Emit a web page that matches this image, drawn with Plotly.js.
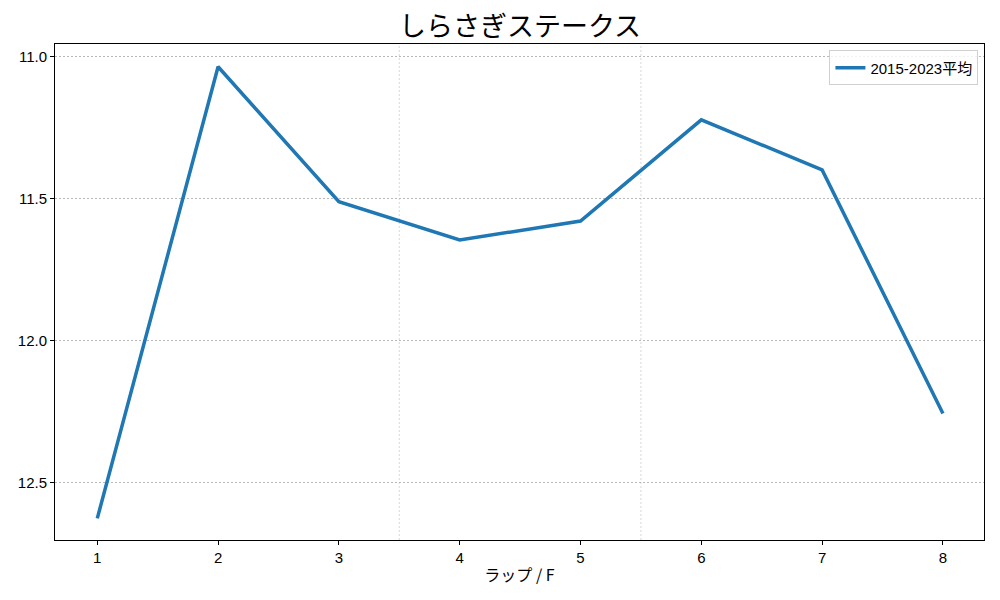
<!DOCTYPE html>
<html>
<head>
<meta charset="utf-8">
<script src="https://cdn.plot.ly/plotly-3.0.1.min.js"></script>
<style>html,body{margin:0;padding:0;background:#fff}#chart{width:1000px;height:600px}</style>
</head>
<body>
<div id="chart"></div>
<script>
const laps = [1, 2, 3, 4, 5, 6, 7, 8];
const avgTimes = [12.625, 11.035, 11.51, 11.645, 11.578, 11.222, 11.398, 12.256];
const seriesName = '2015-2023平均';
const dividers = [3.5, 5.5];
const yTicks = [11.0, 11.5, 12.0, 12.5];
const yTickText = ['11.0', '11.5', '12.0', '12.5'];

const font = '"Liberation Sans", "Noto Sans CJK JP", sans-serif';
const cjkFont = '"Noto Sans CJK JP", "Liberation Sans", sans-serif';

const shapes = dividers.map(d => ({
  type: 'line', xref: 'x', yref: 'paper', x0: d, x1: d, y0: 0, y1: 1,
  line: {color: '#cfcfcf', width: 0.8, dash: '2px,2px'}, layer: 'below'
}));

Plotly.newPlot('chart', [{
  x: laps, y: avgTimes, type: 'scatter', mode: 'lines', name: seriesName,
  line: {color: '#1f77b4', width: 3.5}
}], {
  width: 1000, height: 600,
  margin: {l: 55, r: 16, t: 44, b: 60},
  paper_bgcolor: '#fff', plot_bgcolor: '#fff',
  font: {family: font, size: 15, color: '#000'},
  title: {text: 'しらさぎステークス', font: {family: cjkFont, size: 27, color: '#000'}, x: 0.52, xanchor: 'center', y: 0.955, yanchor: 'middle'},
  showlegend: true,
  legend: {x: 0.994, xanchor: 'right', y: 0.987, yanchor: 'top', bgcolor: 'rgba(255,255,255,0.8)', bordercolor: '#d0d0d0', borderwidth: 1, font: {family: font, size: 15}, itemwidth: 30},
  xaxis: {
    range: [0.65, 8.34], tickvals: laps, ticktext: laps.map(String),
    showgrid: false, zeroline: false, showline: true, mirror: true, linecolor: '#000', linewidth: 1,
    ticks: 'outside', ticklen: 4, tickcolor: '#000',
    title: {text: 'ラップ / F', font: {family: cjkFont, size: 16}, standoff: 4}
  },
  yaxis: {
    range: [12.701, 10.955], tickvals: yTicks, ticktext: yTickText,
    showgrid: true, gridcolor: '#b8b8b8', griddash: '2px,2px', gridwidth: 0.7, zeroline: false,
    showline: true, mirror: true, linecolor: '#000', linewidth: 1,
    ticks: 'outside', ticklen: 4, tickcolor: '#000'
  },
  shapes: shapes
}, {displayModeBar: false});
</script>
</body>
</html>
